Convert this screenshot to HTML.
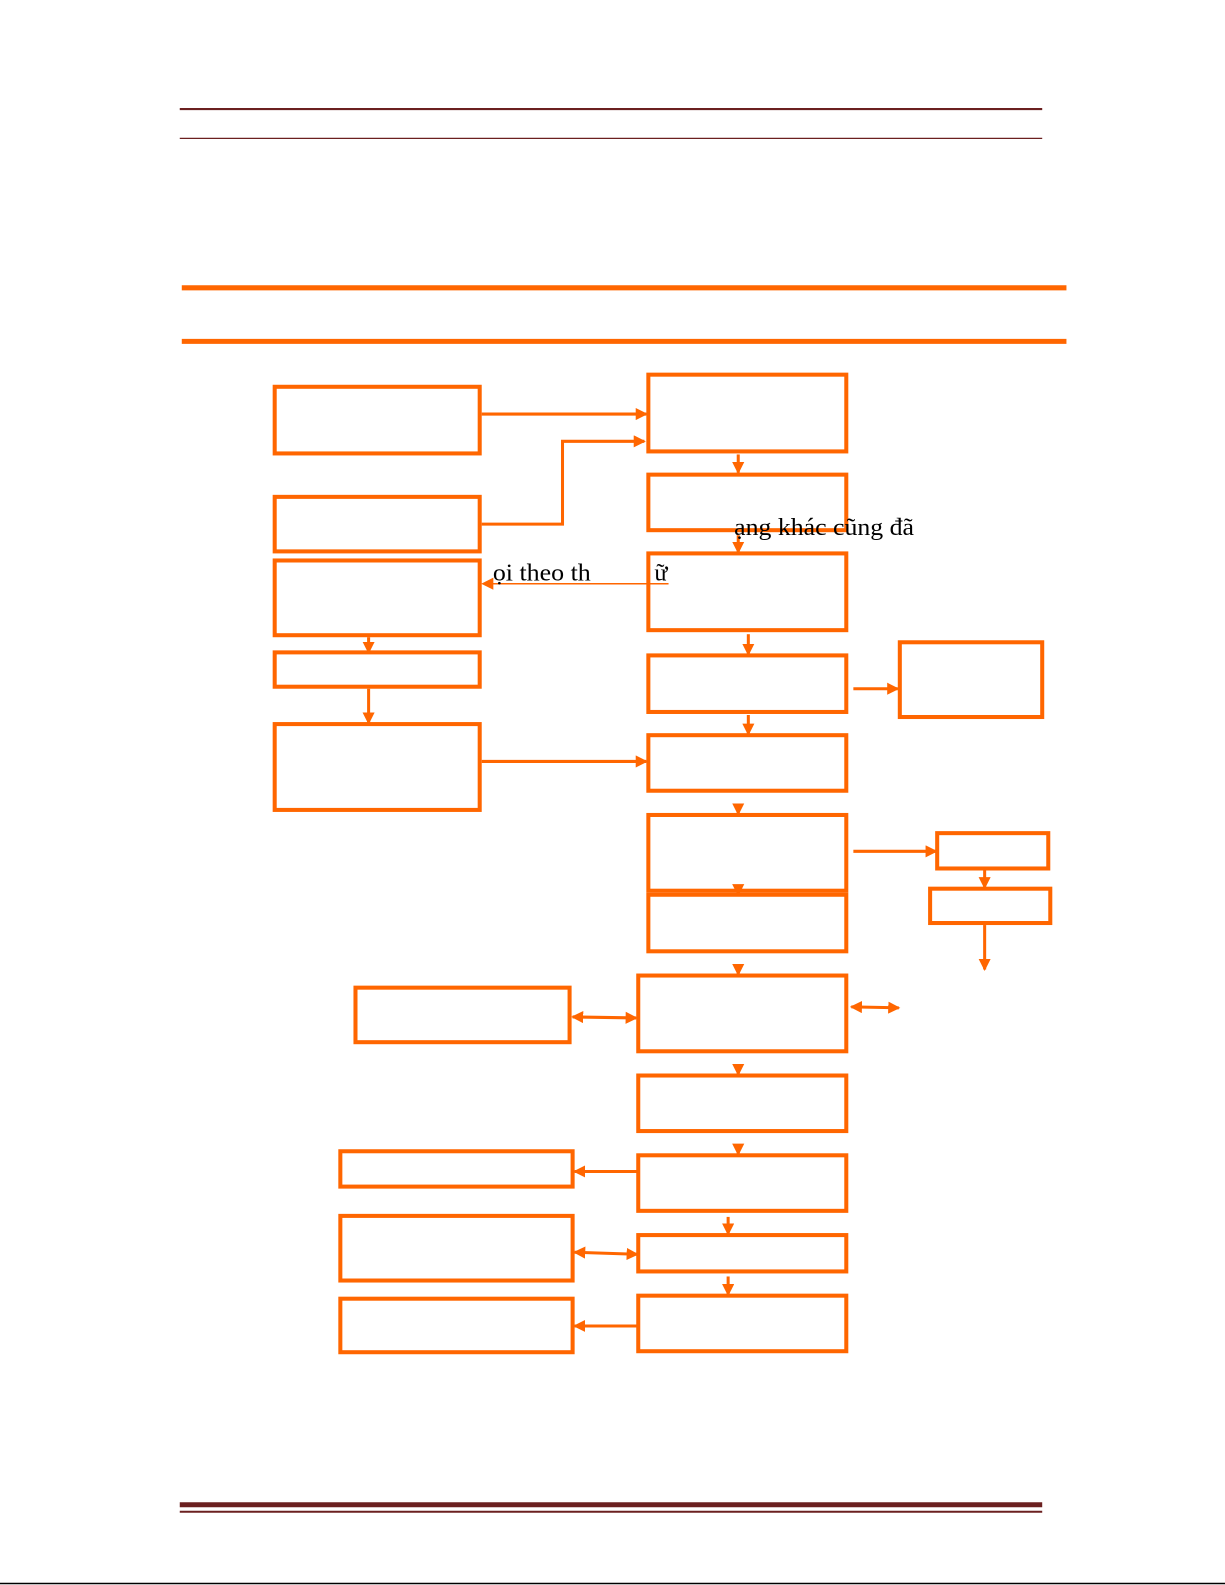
<!DOCTYPE html>
<html><head><meta charset="utf-8"><style>html,body{margin:0;padding:0;background:#fff}svg{display:block}</style></head>
<body>
<svg width="1225" height="1585" viewBox="0 0 1213 1569.5" preserveAspectRatio="none" xmlns="http://www.w3.org/2000/svg">
<defs>
<marker id="a" markerWidth="4" markerHeight="4" refX="3.5" refY="2" orient="auto" markerUnits="strokeWidth"><path d="M0,0 L4,2 L0,4 z" fill="#ff6600"/></marker>
<marker id="s" markerWidth="4" markerHeight="4" refX="0.5" refY="2" orient="auto" markerUnits="strokeWidth"><path d="M4,0 L0,2 L4,4 z" fill="#ff6600"/></marker>
<marker id="t" markerWidth="8" markerHeight="8" refX="7" refY="4" orient="auto" markerUnits="strokeWidth"><path d="M0,0 L8,4 L0,8 z" fill="#ff6600"/></marker>
</defs>
<rect width="1213" height="1569.5" fill="#fff"/>
<line x1="178" y1="108" x2="1032" y2="108" stroke="#6b2020" stroke-width="2"/>
<line x1="178" y1="137" x2="1032" y2="137" stroke="#6b2020" stroke-width="1.3"/>
<line x1="180" y1="285" x2="1056" y2="285" stroke="#ff6600" stroke-width="5"/>
<line x1="180" y1="338" x2="1056" y2="338" stroke="#ff6600" stroke-width="5"/>
<line x1="178" y1="1490" x2="1032" y2="1490" stroke="#6b2020" stroke-width="5"/>
<line x1="178" y1="1497" x2="1032" y2="1497" stroke="#6b2020" stroke-width="2"/>
<line x1="0" y1="1568" x2="1213" y2="1568" stroke="#000" stroke-width="1.5"/>
<g fill="none" stroke="#ff6600" stroke-width="4">
<rect x="272" y="383" width="203" height="66"/>
<rect x="272" y="492" width="203" height="54"/>
<rect x="272" y="555" width="203" height="74"/>
<rect x="272" y="646" width="203" height="34"/>
<rect x="272" y="717" width="203" height="85"/>
<rect x="642" y="371" width="196" height="76"/>
<rect x="642" y="470" width="196" height="55"/>
<rect x="642" y="548" width="196" height="76"/>
<rect x="642" y="649" width="196" height="56"/>
<rect x="642" y="728" width="196" height="55"/>
<rect x="642" y="807" width="196" height="75"/>
<rect x="642" y="886" width="196" height="56"/>
<rect x="632" y="966" width="206" height="75"/>
<rect x="632" y="1065" width="206" height="55"/>
<rect x="632" y="1144" width="206" height="55"/>
<rect x="632" y="1223" width="206" height="36"/>
<rect x="632" y="1283" width="206" height="55"/>
<rect x="891" y="636" width="141" height="74"/>
<rect x="928" y="825" width="110" height="35"/>
<rect x="921" y="880" width="119" height="34"/>
<rect x="352" y="978" width="212" height="54"/>
<rect x="337" y="1140" width="230" height="35"/>
<rect x="337" y="1204" width="230" height="64"/>
<rect x="337" y="1286" width="230" height="53"/>
</g>
<g fill="none" stroke="#ff6600" stroke-width="3" marker-end="url(#a)">
<line x1="477" y1="410" x2="640" y2="410"/>
<polyline points="477,519 557,519 557,437 638,437"/>
<line x1="731" y1="450" x2="731" y2="468"/>
<line x1="731" y1="530" x2="731" y2="547"/>
<line x1="365" y1="631" x2="365" y2="646"/>
<line x1="365" y1="682" x2="365" y2="716"/>
<line x1="477" y1="754" x2="640" y2="754"/>
<line x1="741" y1="628" x2="741" y2="648"/>
<line x1="845" y1="682" x2="889" y2="682"/>
<line x1="741" y1="708" x2="741" y2="727"/>
<line x1="731" y1="797" x2="731" y2="806"/>
<line x1="731" y1="876" x2="731" y2="886"/>
<line x1="845" y1="843" x2="927" y2="843"/>
<line x1="975" y1="862" x2="975" y2="879"/>
<line x1="975" y1="916" x2="975" y2="960"/>
<line x1="731" y1="955" x2="731" y2="965"/>
<line x1="567" y1="1007" x2="630" y2="1008" marker-start="url(#s)"/>
<line x1="843" y1="997" x2="890" y2="998" marker-start="url(#s)"/>
<line x1="731" y1="1054" x2="731" y2="1064"/>
<line x1="731" y1="1133" x2="731" y2="1143"/>
<line x1="631" y1="1160" x2="569" y2="1160"/>
<line x1="721" y1="1205" x2="721" y2="1222"/>
<line x1="569" y1="1240" x2="631" y2="1242" marker-start="url(#s)"/>
<line x1="721" y1="1264" x2="721" y2="1282"/>
<line x1="631" y1="1313" x2="569" y2="1313"/>
</g>
<line x1="662" y1="578" x2="478" y2="578" stroke="#ff6600" stroke-width="1.5" marker-end="url(#t)"/>
<g font-family="Liberation Serif, serif" font-size="24" fill="#000">
<text x="727" y="530" textLength="178" lengthAdjust="spacingAndGlyphs">ạng khác cũng đã</text>
<text x="488" y="575" textLength="97" lengthAdjust="spacingAndGlyphs">ọi theo th</text>
<text x="648" y="575">ữ</text>
</g>
</svg>
</body></html>
